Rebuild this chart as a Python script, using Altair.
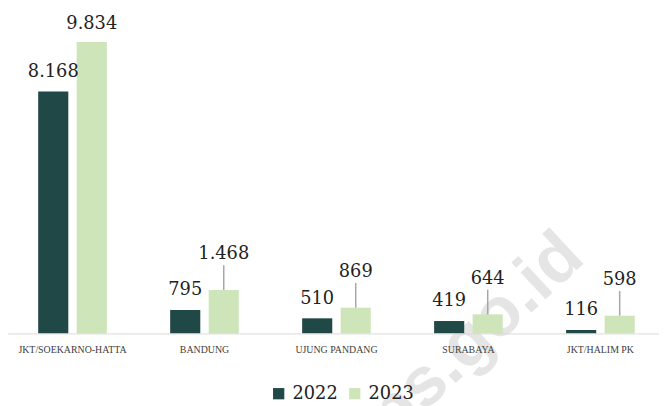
import altair as alt
import pandas as pd

# ---- data -------------------------------------------------------------
categories = ["JKT/SOEKARNO-HATTA", "BANDUNG", "UJUNG PANDANG", "SURABAYA", "JKT/HALIM PK"]
years = ["2022", "2023"]
values_2022 = [8168, 795, 510, 419, 116]
values_2023 = [9834, 1468, 869, 644, 598]
leader_categories = ["BANDUNG", "UJUNG PANDANG", "SURABAYA", "JKT/HALIM PK"]


def fmt(v):
    return f"{v:,}".replace(",", ".")


rows = []
for c, a, b in zip(categories, values_2022, values_2023):
    rows.append({"cat": c, "year": "2022", "value": a, "label": fmt(a), "leader": False})
    rows.append({"cat": c, "year": "2023", "value": b, "label": fmt(b),
                 "leader": c in leader_categories})
df = pd.DataFrame(rows)

DARK = "#1f4846"
LIGHT = "#cee4b9"
TXT = "#222222"

x_enc = alt.X(
    "cat:N",
    scale=alt.Scale(domain=categories, paddingInner=0, paddingOuter=0,
                    range=[alt.ExprRef(expr="-1.5"), alt.ExprRef(expr="width + 7.5")]),
    axis=alt.Axis(title=None, labelAngle=0, ticks=False, domainColor="#d9d9d9",
                  domainWidth=1, labelFont="Liberation Serif", labelFontSize=10,
                  labelColor="#404040", labelPadding=11, labelLimit=300, zindex=1),
)
xo_enc = alt.XOffset("year:N", scale=alt.Scale(domain=years, paddingInner=0.218, paddingOuter=0.822))
y_enc = alt.Y("value:Q", scale=alt.Scale(domain=[0, 10900], nice=False, zero=True), axis=None)

base = alt.Chart(df).encode(x=x_enc, xOffset=xo_enc, y=y_enc)

bars = base.mark_bar().encode(
    color=alt.Color(
        "year:N",
        scale=alt.Scale(domain=years, range=[DARK, LIGHT]),
        legend=alt.Legend(title=None, orient="none", legendX=265, legendY=379,
                          direction="horizontal", symbolType="square", symbolSize=130,
                          symbolStrokeWidth=0, labelFont="DejaVu Serif", labelFontSize=18,
                          labelColor=TXT, labelOffset=5, columnPadding=8, padding=0),
    )
)

rules = base.transform_filter("datum.leader").mark_rule(
    color="#a6a6a6", strokeWidth=1.5, yOffset=-25
).encode(y2="value:Q")

text_style = dict(baseline="alphabetic", align="center", font="DejaVu Serif", fontSize=18, color=TXT)

labels_2022 = base.transform_filter("datum.year == '2022'").mark_text(dy=-15, **text_style).encode(text="label:N")
labels_2023_plain = base.transform_filter("datum.year == '2023' && !datum.leader").mark_text(dy=-13, **text_style).encode(text="label:N")
labels_2023_leader = base.transform_filter("datum.leader").mark_text(dy=-31, **text_style).encode(text="label:N")

watermark = alt.Chart(pd.DataFrame({"t": ["bps.go.id"]})).mark_text(
    font="Liberation Sans", fontWeight="bold", fontSize=70, angle=317,
    color="#e5e5e5", align="center", baseline="middle"
).encode(x=alt.value(458), y=alt.value(344), text="t:N")

chart = alt.layer(
    watermark, bars, rules, labels_2022, labels_2023_plain, labels_2023_leader
).properties(
    width=659, height=327,
    padding={"left": 0, "top": 0, "right": 0, "bottom": 71},
    autosize=alt.AutoSizeParams(type="none"),
).configure_view(stroke=None)

chart.save("out.html", embed_options={"renderer": "svg", "actions": False})
